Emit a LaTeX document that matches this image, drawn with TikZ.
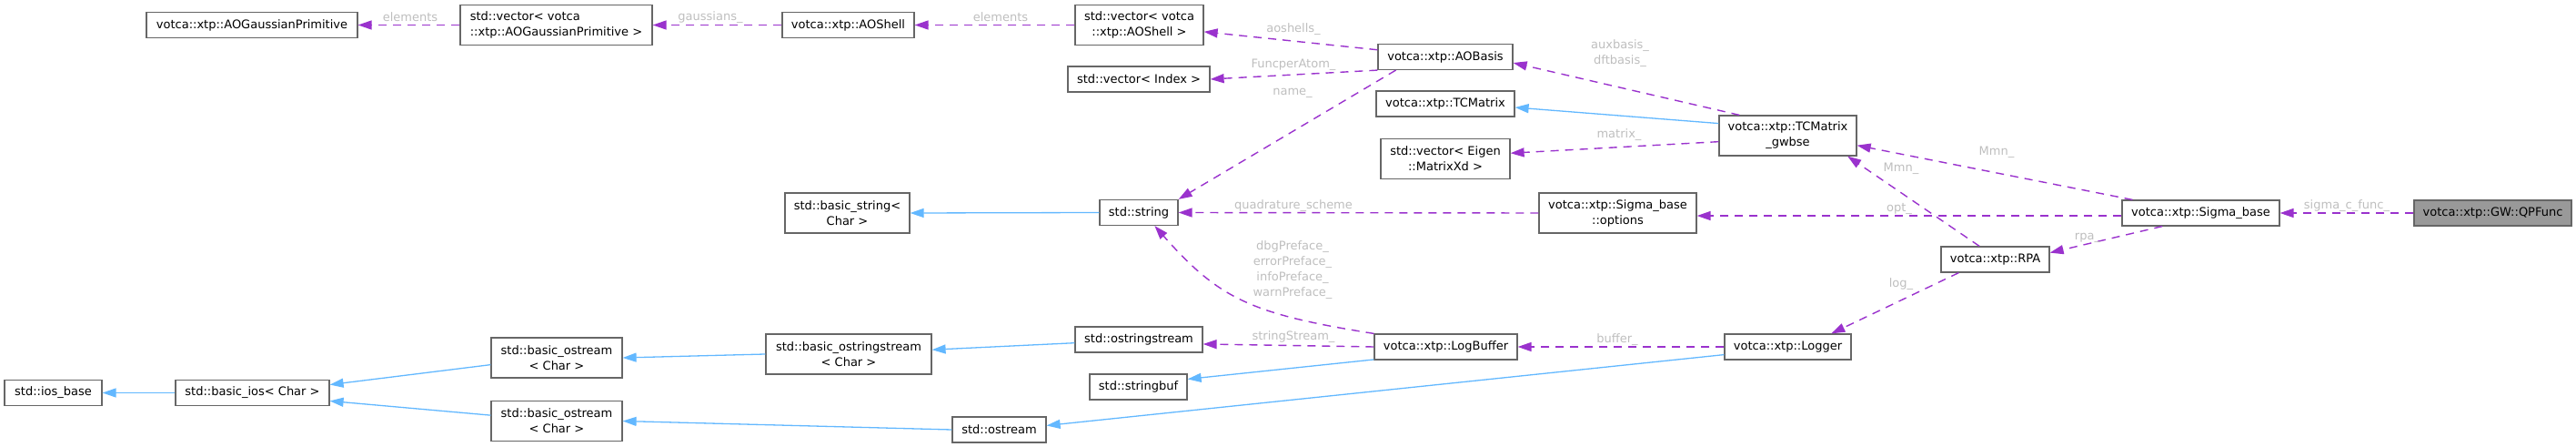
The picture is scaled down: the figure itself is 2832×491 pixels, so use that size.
\documentclass[tikz,border=0pt]{standalone}
\usepackage{fontspec}
\setmainfont{DejaVu Sans}
\usepackage{tikz}
\usetikzlibrary{arrows.meta}
\definecolor{usecol}{HTML}{9A32CD}
\definecolor{inhcol}{HTML}{63B8FF}
\definecolor{boxcol}{HTML}{666666}
\definecolor{lblcol}{HTML}{BEBEBE}
\definecolor{curcol}{HTML}{999999}
\tikzset{
  cls/.style = {rectangle, draw=boxcol, fill=white, inner sep=1pt,
    align=center, minimum height=14pt, line width=0.6pt,
    font=\fontsize{6.5}{8.5}\selectfont},% one line box
  cls2/.style = {cls, minimum height=22pt},% two line box
  cur/.style = {cls, fill=curcol},% the documented class
  lbl/.style = {text=lblcol, inner sep=0pt, align=center,
    font=\fontsize{6.5}{8.5}\selectfont},% member names
  usage/.style = {->, draw=usecol, line width=0.7pt,
    dash pattern=on 4.5pt off 3.5pt},
  inherit/.style = {->, draw=inhcol, line width=0.65pt}
}

\begin{document}
\begin{tikzpicture}[x=0.5pt,y=-0.5pt,>={Triangle[length=7.5pt,width=5pt]}]
\useasboundingbox (0,0) rectangle (2832,491);
% classes
\node[cls, minimum width=116pt] (gp) at (277,27.5) {votca::xtp::AOGaussianPrimitive};
\node[cls2, minimum width=105.5pt, align=left] (vg) at (611.5,27.5) {std::vector< votca\\::xtp::AOGaussianPrimitive >};
\node[cls, minimum width=72.5pt] (sh) at (932.5,27.5) {votca::xtp::AOShell};
\node[cls2, minimum width=70.5pt] (vs) at (1252.5,27.5) {std::vector< votca\\::xtp::AOShell >};
\node[cls, minimum width=74pt] (ab) at (1589,62.5) {votca::xtp::AOBasis};
\node[cls, minimum width=78pt] (vi) at (1252,87) {std::vector< Index >};
\node[cls, minimum width=76pt] (tc) at (1589,114) {votca::xtp::TCMatrix};
\node[cls2, minimum width=71pt] (ve) at (1589,174.5) {std::vector< Eigen\\::MatrixXd >};
\node[cls2, minimum width=75.5pt] (gw) at (1965.5,149) {votca::xtp::TCMatrix\\\_gwbse};
\node[cls2, minimum width=68.5pt] (bs) at (931.5,234) {std::basic\_string<\\Char >};
\node[cls, minimum width=43pt] (str) at (1252,233.5) {std::string};
\node[cls2, minimum width=86.5pt] (op) at (1778.5,234) {votca::xtp::Sigma\_base\\::options};
\node[cls, minimum width=86.5pt] (sb) at (2419.5,234) {votca::xtp::Sigma\_base};
\node[cur, minimum width=86.5pt] (qp) at (2740.5,234) {votca::xtp::GW::QPFunc};
\node[cls, minimum width=59.5pt] (rp) at (2193.5,285) {votca::xtp::RPA};
\node[cls, minimum width=53.5pt] (ib) at (58.5,431.5) {std::ios\_base};
\node[cls, minimum width=84.5pt] (bi) at (277.5,431.5) {std::basic\_ios< Char >};
\node[cls2, minimum width=72pt] (bo1) at (612,393) {std::basic\_ostream\\< Char >};
\node[cls2, minimum width=72pt] (bo2) at (612,462.5) {std::basic\_ostream\\< Char >};
\node[cls2, minimum width=91pt] (bss) at (933,389) {std::basic\_ostringstream\\< Char >};
\node[cls, minimum width=70pt] (os) at (1252,373) {std::ostringstream};
\node[cls, minimum width=78.5pt] (lb) at (1589.5,381) {votca::xtp::LogBuffer};
\node[cls, minimum width=53.5pt] (sf) at (1251.5,425) {std::stringbuf};
\node[cls, minimum width=51.5pt] (ost) at (1098.5,472) {std::ostream};
\node[cls, minimum width=69.5pt] (lg) at (1965.5,381) {votca::xtp::Logger};

% members
\draw[usage] (vg.west) -- (gp.east);
\draw[usage] (sh.west) -- (vg.east);
\draw[usage] (vs.west) -- (sh.east);
\draw[usage] (ab) -- (vs);
\draw[usage] (ab.south west) -- (vi.east);
\draw[usage] (ab.-165) -- (str.north east);
\draw[usage] (gw.157) -- (ab.-5);
\draw[usage] (gw.-175) -- (ve.5);
\draw[usage] (sb.169) -- (gw.-8);
\draw[usage] (rp.140) -- (gw.-19);
\draw[usage] (sb.-178) -- (op.-2);
\draw[usage] (qp.west) -- (sb.east);
\draw[usage] (sb.-161) -- (rp.7);
\draw[usage] (rp.-160) -- (lg.17);
\draw[usage] (op.west) -- (str.east);
\draw[usage] (lb.north west) .. controls (1375,345) and (1340,328) .. (str.-40);
\draw[usage] (lb.west) -- (os.-4);
\draw[usage] (lg.west) -- (lb.east);

% base classes
\draw[inherit] (gw.170) -- (tc.-3);
\draw[inherit] (str.west) -- (bs.east);
\draw[inherit] (lb.-170) -- (sf.9);
\draw[inherit] (lg.-173) -- (ost.5);
\draw[inherit] (os.-177) -- (bss.3);
\draw[inherit] (bss.west) -- (bo1.east);
\draw[inherit] (ost.west) -- (bo2.east);
\draw[inherit] (bo1.-174) -- (bi.6);
\draw[inherit] (bo2.175) -- (bi.-6);
\draw[inherit] (bi.west) -- (ib.east);

% labels
\node[lbl] (l-elem1) at (451,19) {elements};
\node[lbl] (l-gauss) at (781,19) {gaussians\_};
\node[lbl] (l-elem2) at (1100,19) {elements};
\node[lbl] (l-shells) at (1422,32) {aoshells\_};
\node[lbl] (l-func) at (1422,71) {FuncperAtom\_};
\node[lbl] (l-name) at (1421,102) {name\_};
\node[lbl] (l-basis) at (1781,59) {auxbasis\_\\dftbasis\_};
\node[lbl] (l-matrix) at (1780,148) {matrix\_};
\node[lbl] (l-mmn1) at (2195,167) {Mmn\_};
\node[lbl] (l-mmn2) at (2090,185) {Mmn\_};
\node[lbl] (l-opt) at (2088,229) {opt\_};
\node[lbl] (l-sigma) at (2580,226) {sigma\_c\_func\_};
\node[lbl] (l-rpa) at (2295,261) {rpa\_};
\node[lbl] (l-log) at (2090,312) {log\_};
\node[lbl] (l-quad) at (1422,226) {quadrature\_scheme};
\node[lbl] (l-pref) at (1421,297) {dbgPreface\_\\errorPreface\_\\infoPreface\_\\warnPreface\_};
\node[lbl] (l-sstream) at (1422,370) {stringStream\_};
\node[lbl] (l-buffer) at (1778,373) {buffer\_};
\end{tikzpicture}
\end{document}
